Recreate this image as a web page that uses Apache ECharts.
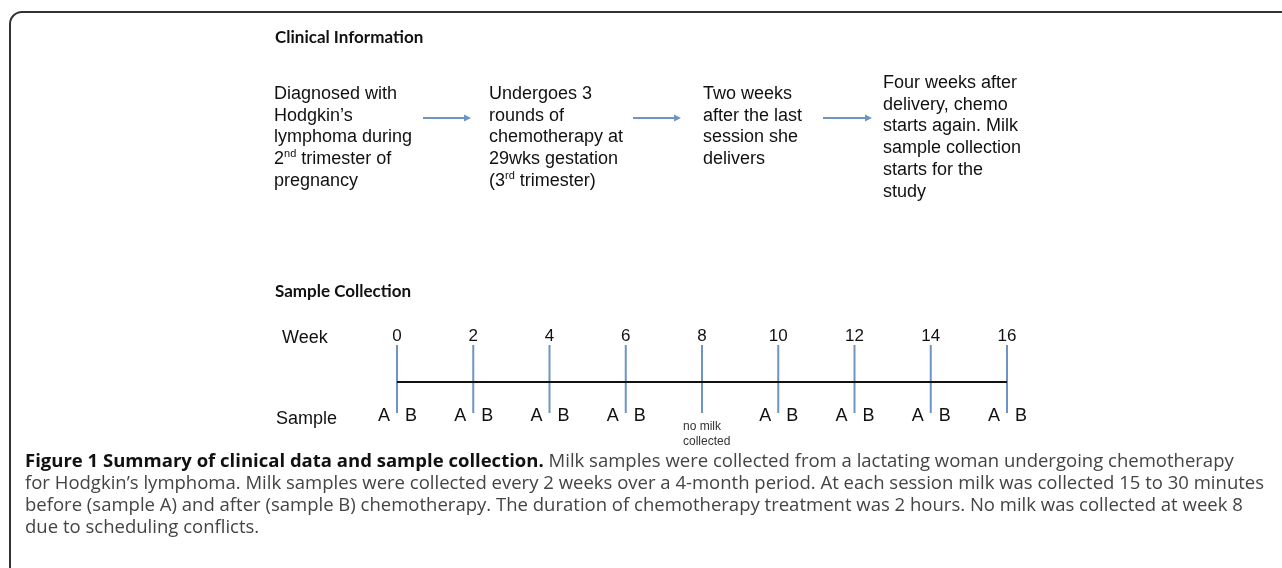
<!DOCTYPE html>
<html>
<head>
<meta charset="utf-8">
<script src="https://cdn.jsdelivr.net/npm/echarts@6/dist/echarts.min.js"></script>
<style>
html, body { margin: 0; padding: 0; background: #fff; }
#chart { width: 1282px; height: 568px; }
</style>
</head>
<body>
<div id="chart"></div>
<script>
// timeline data
const weeks = [0, 2, 4, 6, 8, 10, 12, 14, 16]
const collected = [true, true, true, true, false, true, true, true, true]
const sampleNames = ['A', 'B']
const missingText = 'no milk\ncollected'

// clinical steps (rich text, {sup|..} = superscript)
const steps = [
  ['Diagnosed with', 'Hodgkin\u2019s', 'lymphoma during', '2{sup|nd} trimester of', 'pregnancy'],
  ['Undergoes 3', 'rounds of', 'chemotherapy at', '29wks gestation', '(3{sup|rd} trimester)'],
  ['Two weeks', 'after the last', 'session she', 'delivers'],
  ['Four weeks after', 'delivery, chemo', 'starts again. Milk', 'sample collection', 'starts for the', 'study']
]

const captionLines = [
  '{b|Figure 1 Summary of clinical data and sample collection.} Milk samples were collected from a lactating woman undergoing chemotherapy',
  'for Hodgkin\u2019s lymphoma. Milk samples were collected every 2 weeks over a 4-month period. At each session milk was collected 15 to 30 minutes',
  'before (sample A) and after (sample B) chemotherapy. The duration of chemotherapy treatment was 2 hours. No milk was collected at week 8',
  'due to scheduling conflicts.'
]

// layout
const stepX = [274, 489, 703, 883]
const stepTop = [83, 83, 83, 72]
const arrowX = [[423, 471], [633, 681], [823, 872]]
const arrowY = 118
const capY = [462, 484, 506, 528]

const SANS = '"Liberation Sans", Arial, sans-serif'
const CAPF = '"Open Sans", sans-serif'
const BLUE = '#6c95c5'

// fit caption font so the longest line spans like the original
const ctx = document.createElement('canvas').getContext('2d')
ctx.font = '16px "Open Sans"'
const capSize = Math.max(15, Math.min(19, 16 * 1240 / ctx.measureText(captionLines[1]).width))

const chart = echarts.init(document.getElementById('chart'))

const graphics = []

// frame
graphics.push({
  type: 'rect', shape: { x: 10, y: 12, width: 1400, height: 700, r: 12 },
  style: { fill: 'none', stroke: '#333', lineWidth: 2 }
})

const heading = (text, x, y) => ({
  type: 'text', x, y,
  style: { text, font: 'bold 17px Lato, "Open Sans", sans-serif', fill: '#111', verticalAlign: 'middle' }
})
graphics.push(heading('Clinical Information', 275, 38))
graphics.push(heading('Sample Collection', 275, 292))

steps.forEach((lines, i) => {
  graphics.push({
    type: 'text', x: stepX[i], y: stepTop[i],
    style: {
      text: lines.join('\n'), fontFamily: SANS, fontSize: 18, lineHeight: 21.8,
      fill: '#111', verticalAlign: 'top',
      rich: { sup: { fontSize: 11, lineHeight: 15, verticalAlign: 'top', fontFamily: SANS, fill: '#111' } }
    }
  })
})

arrowX.forEach(([x0, x1]) => {
  graphics.push({
    type: 'line', shape: { x1: x0, y1: arrowY, x2: x1 - 6, y2: arrowY },
    style: { stroke: BLUE, lineWidth: 2 }
  })
  graphics.push({
    type: 'polygon', shape: { points: [[x1 - 7, arrowY - 3.5], [x1, arrowY], [x1 - 7, arrowY + 3.5]] },
    style: { fill: BLUE }
  })
})

const rowLabel = (text, x, y) => ({
  type: 'text', x, y,
  style: { text, fontFamily: SANS, fontSize: 18, fill: '#111', verticalAlign: 'middle' }
})
graphics.push(rowLabel('Week', 282, 338))
graphics.push(rowLabel('Sample', 276, 419))

captionLines.forEach((t, i) => {
  graphics.push({
    type: 'text', x: 25, y: capY[i],
    style: {
      text: t, fontFamily: CAPF, fontSize: capSize, fill: '#444', verticalAlign: 'middle',
      rich: { b: { fontFamily: CAPF, fontSize: capSize, fontWeight: 'bold', fill: '#111' } }
    }
  })
})

const option = {
  animation: false,
  graphic: graphics,
  grid: { left: 397, right: 275, top: 345, height: 100 },
  xAxis: {
    type: 'value', min: 0, max: 16, interval: 2, position: 'top',
    axisLine: { show: false }, axisTick: { show: false }, splitLine: { show: false },
    axisLabel: { fontFamily: SANS, fontSize: 17, color: '#111', margin: 0 }
  },
  yAxis: { type: 'value', min: 0, max: 100, inverse: true, show: false },
  series: [
    {
      // baseline
      type: 'line', symbol: 'none', silent: true,
      data: [[weeks[0], 37], [weeks[weeks.length - 1], 37]],
      lineStyle: { color: '#111', width: 2 }
    },
    {
      // session ticks
      type: 'custom', silent: true,
      data: weeks.map(w => [w]),
      renderItem: (params, api) => {
        const a = api.coord([api.value(0), 0])
        const b = api.coord([api.value(0), 68])
        return { type: 'line', shape: { x1: a[0], y1: a[1], x2: b[0], y2: b[1] }, style: { stroke: BLUE, lineWidth: 2 } }
      }
    },
    {
      // sample labels
      type: 'custom', silent: true,
      data: weeks.map((w, i) => [w, collected[i] ? 1 : 0]),
      renderItem: (params, api) => {
        const p = api.coord([api.value(0), 71])
        if (!api.value(1)) {
          return {
            type: 'text', x: p[0] - 19, y: p[1] + 3,
            style: { text: missingText, fontFamily: SANS, fontSize: 12, lineHeight: 15, fill: '#333', verticalAlign: 'top' }
          }
        }
        return {
          type: 'group',
          children: sampleNames.map((s, k) => ({
            type: 'text', x: p[0] + (k ? 14 : -13), y: p[1],
            style: { text: s, fontFamily: SANS, fontSize: 18, fill: '#111', align: 'center', verticalAlign: 'middle' }
          }))
        }
      }
    }
  ]
}

chart.setOption(option)
</script>
</body>
</html>
